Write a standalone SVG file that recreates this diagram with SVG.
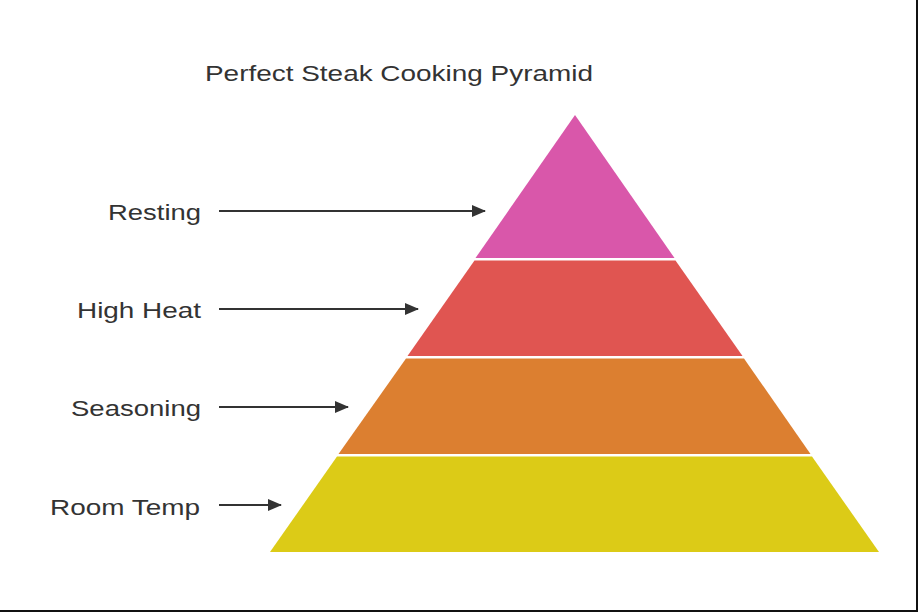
<svg xmlns="http://www.w3.org/2000/svg" width="918" height="612" viewBox="0 0 918 612">
<style>
text{font-family:"Liberation Sans",Arial,sans-serif;fill:#333;font-size:22px;}
.conn{stroke:#333;stroke-width:2;fill:none;marker-end:url(#ah);}
</style>
<defs>
<marker id="ah" markerWidth="14" markerHeight="12" refX="13" refY="6" orient="auto" markerUnits="userSpaceOnUse">
<path d="M0,0 L14,6 L0,12 Z" fill="#333"/>
</marker>
</defs>
<rect width="918" height="612" fill="#fff"/>
<path d="M917,0 V611 H0" fill="none" stroke="#111" stroke-width="2"/>
<text x="205" y="81" textLength="388" lengthAdjust="spacingAndGlyphs">Perfect Steak Cooking Pyramid</text>
<g id="room-temp"><polygon points="337,456.5 812,456.5 879,552 270,552" fill="#DCCB17"/></g>
<g id="seasoning"><polygon points="406,358.5 744,358.5 810.5,454 338.5,454" fill="#DC7F30"/></g>
<g id="high-heat"><polygon points="474.5,260.5 675.5,260.5 742.5,356 407.5,356" fill="#E05551"/></g>
<g id="resting"><polygon points="575,115 674.5,258 475.5,258" fill="#D957AA"/></g>
<g id="labels">
<text x="108" y="220" textLength="93" lengthAdjust="spacingAndGlyphs">Resting</text>
<text x="77" y="318" textLength="124" lengthAdjust="spacingAndGlyphs">High Heat</text>
<text x="71" y="416" textLength="130" lengthAdjust="spacingAndGlyphs">Seasoning</text>
<text x="50" y="515" textLength="150" lengthAdjust="spacingAndGlyphs">Room Temp</text>
</g>
<g id="connectors">
<line class="conn" x1="219" y1="211" x2="485" y2="211"/>
<line class="conn" x1="219" y1="309" x2="418" y2="309"/>
<line class="conn" x1="219" y1="407" x2="348" y2="407"/>
<line class="conn" x1="219" y1="505" x2="281" y2="505"/>
</g>
</svg>
